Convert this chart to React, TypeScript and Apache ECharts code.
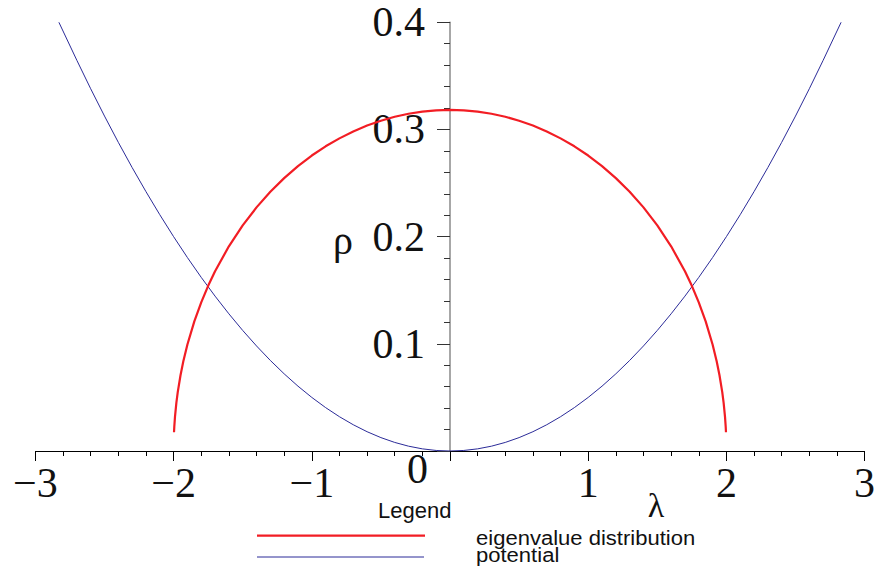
import React, { useEffect, useRef } from "react";
import * as echarts from "echarts";

// Eigenvalue density (semicircle) sampled along λ
const eigenLambda = [
  -1.997, -1.995, -1.99, -1.98, -1.97, -1.95, -1.93, -1.9, -1.85, -1.8, -1.75, -1.7, -1.6, -1.5, -1.4, -1.3,
  -1.2, -1.1, -1.0, -0.9, -0.8, -0.7, -0.6, -0.5, -0.4, -0.3, -0.2, -0.1, 0,
  0.1, 0.2, 0.3, 0.4, 0.5, 0.6, 0.7, 0.8, 0.9, 1.0, 1.1, 1.2, 1.3, 1.4, 1.5, 1.6,
  1.7, 1.75, 1.8, 1.85, 1.9, 1.93, 1.95, 1.97, 1.98, 1.99, 1.995, 1.997,
];
const eigenRho = [
  0.0175, 0.0225, 0.0318, 0.0449, 0.0549, 0.0707, 0.0835, 0.0994, 0.1209, 0.1387, 0.1541, 0.1677, 0.191, 0.2105, 0.2273, 0.2419,
  0.2546, 0.2658, 0.2757, 0.2843, 0.2917, 0.2982, 0.3037, 0.3082, 0.3119, 0.3147, 0.3167, 0.3179, 0.3183,
  0.3179, 0.3167, 0.3147, 0.3119, 0.3082, 0.3037, 0.2982, 0.2917, 0.2843, 0.2757, 0.2658, 0.2546, 0.2419, 0.2273, 0.2105, 0.191,
  0.1677, 0.1541, 0.1387, 0.1209, 0.0994, 0.0835, 0.0707, 0.0549, 0.0449, 0.0318, 0.0225, 0.0175,
];

// Quadratic potential sampled along λ
const potentialLambda = [
  -2.83, -2.7, -2.6, -2.5, -2.4, -2.3, -2.2, -2.1, -2.0, -1.9, -1.8, -1.7, -1.6, -1.5, -1.4, -1.3, -1.2, -1.1,
  -1.0, -0.9, -0.8, -0.7, -0.6, -0.5, -0.4, -0.3, -0.2, -0.1, 0,
  0.1, 0.2, 0.3, 0.4, 0.5, 0.6, 0.7, 0.8, 0.9, 1.0, 1.1, 1.2, 1.3, 1.4, 1.5, 1.6, 1.7, 1.8, 1.9,
  2.0, 2.1, 2.2, 2.3, 2.4, 2.5, 2.6, 2.7, 2.83,
];
const potentialValue = [
  0.4, 0.3645, 0.338, 0.3125, 0.288, 0.2645, 0.242, 0.2205, 0.2, 0.1805, 0.162, 0.1445, 0.128, 0.1125, 0.098, 0.0845, 0.072, 0.0605,
  0.05, 0.0405, 0.032, 0.0245, 0.018, 0.0125, 0.008, 0.0045, 0.002, 0.0005, 0,
  0.0005, 0.002, 0.0045, 0.008, 0.0125, 0.018, 0.0245, 0.032, 0.0405, 0.05, 0.0605, 0.072, 0.0845, 0.098, 0.1125, 0.128, 0.1445, 0.162, 0.1805,
  0.2, 0.2205, 0.242, 0.2645, 0.288, 0.3125, 0.338, 0.3645, 0.4,
];

const xTickValues = [-3, -2, -1, 0, 1, 2, 3];
const xTickLabels = ["−3", "−2", "−1", "0", "1", "2", "3"];
const yTickValues = [0.1, 0.2, 0.3, 0.4];
const yTickLabels = ["0.1", "0.2", "0.3", "0.4"];

const seriesNames = ["eigenvalue distribution", "potential"];
const RED = "#f21d24";
const BLUE = "#2b2b98";
const SERIF = "'Liberation Serif', 'Times New Roman', serif";
const SANS = "'Liberation Sans', Arial, sans-serif";

// plot box in pixels; the vertical axis sits on λ = 0
const GRID_LEFT = 35.4;
const GRID_RIGHT = 14.4;
const CHART_W = 879;

export default function App() {
  const ref = useRef<HTMLDivElement>(null);

  useEffect(() => {
    document.body.style.margin = "0";
    if (!ref.current) return;
    const chart = echarts.init(ref.current, undefined, { renderer: "svg" });

    const fmtX = (v: number) => {
      if (v === 0) return "";
      const i = xTickValues.findIndex((t) => Math.abs(t - v) < 1e-9);
      return i >= 0 ? xTickLabels[i] : "";
    };
    const fmtY = (v: number) => {
      const i = yTickValues.findIndex((t) => Math.abs(t - v) < 1e-9);
      return i >= 0 ? yTickLabels[i] : "";
    };

    const plotW = CHART_W - GRID_LEFT - GRID_RIGHT;
    const yAxisOffset = -plotW / 2; // middle of [-3, 3]

    chart.setOption({
      animation: false,
      backgroundColor: "#ffffff",
      grid: {
        left: GRID_LEFT,
        right: GRID_RIGHT,
        top: 22.3,
        bottom: 125,
        containLabel: false,
        outerBoundsMode: "none",
      },
      xAxis: {
        type: "value",
        min: -3,
        max: 3,
        interval: 1,
        splitLine: { show: false },
        axisLine: { onZero: false, lineStyle: { color: "#000", width: 1 } },
        axisTick: { show: true, length: 10, lineStyle: { color: "#000", width: 1 } },
        minorTick: { show: true, splitNumber: 5, length: 5, lineStyle: { color: "#000", width: 1 } },
        axisLabel: {
          formatter: fmtX,
          margin: 11,
          fontFamily: SERIF,
          fontSize: 42,
          color: "#111",
        },
      },
      yAxis: {
        type: "value",
        min: 0,
        max: 0.4,
        interval: 0.1,
        position: "left",
        offset: yAxisOffset,
        splitLine: { show: false },
        axisLine: { onZero: false, lineStyle: { color: "#8a8a8a", width: 1.5 } },
        axisTick: { show: true, length: 13, lineStyle: { color: "#333", width: 1 } },
        minorTick: { show: true, splitNumber: 5, length: 6, lineStyle: { color: "#333", width: 1 } },
        axisLabel: {
          formatter: fmtY,
          margin: 25,
          fontFamily: SERIF,
          fontSize: 42,
          color: "#111",
        },
      },
      series: [
        {
          name: seriesNames[1],
          type: "line",
          symbol: "none",
          data: potentialLambda.map((x, i) => [x, potentialValue[i]]),
          lineStyle: { color: BLUE, width: 1 },
          z: 2,
        },
        {
          name: seriesNames[0],
          type: "line",
          symbol: "none",
          data: eigenLambda.map((x, i) => [x, eigenRho[i]]),
          lineStyle: { color: RED, width: 2.2 },
          z: 3,
        },
      ],
      graphic: [
        {
          type: "text",
          x: 417.5,
          y: 468.5,
          style: { text: "0", font: `42px ${SERIF}`, fill: "#111", align: "center", verticalAlign: "middle" },
        },
        {
          type: "text",
          x: 656,
          y: 505,
          style: { text: "λ", font: `34px ${SERIF}`, fill: "#111", align: "center", verticalAlign: "middle" },
        },
        {
          type: "text",
          x: 343,
          y: 240,
          style: { text: "ρ", font: `40px ${SERIF}`, fill: "#111", align: "center", verticalAlign: "middle" },
        },
        {
          type: "text",
          x: 378,
          y: 510,
          style: { text: "Legend", font: `22px ${SANS}`, fill: "#111", align: "left", verticalAlign: "middle" },
        },
        {
          type: "line",
          shape: { x1: 257, y1: 535.7, x2: 425, y2: 535.7 },
          style: { stroke: RED, lineWidth: 2.2 },
        },
        {
          type: "line",
          shape: { x1: 257, y1: 557, x2: 424, y2: 557 },
          style: { stroke: BLUE, lineWidth: 1 },
        },
        {
          type: "text",
          x: 476,
          y: 529,
          scaleX: 1.13,
          style: {
            text: seriesNames.join("\n"),
            font: `19.5px ${SANS}`,
            lineHeight: 17.5,
            fill: "#111",
            align: "left",
            verticalAlign: "top",
          },
        },
      ],
    });

    return () => chart.dispose();
  }, []);

  return <div ref={ref} style={{ width: 879, height: 576 }} />;
}
